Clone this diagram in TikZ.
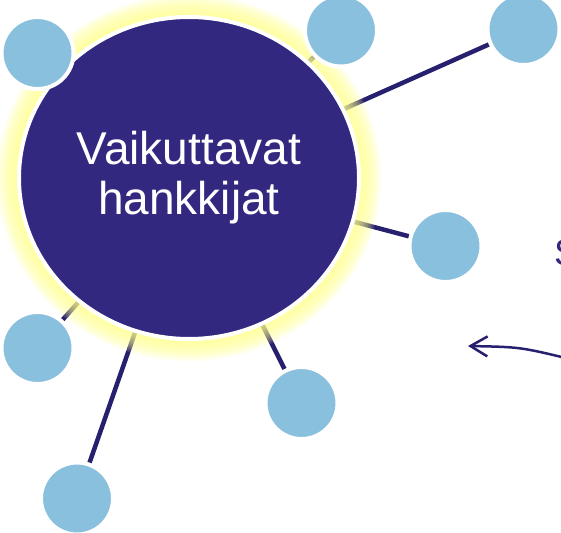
\documentclass[tikz,border=0pt]{standalone}
\usepackage{fontspec}
\setmainfont{Liberation Sans}
\usetikzlibrary{shapes.geometric,arrows.meta,backgrounds,positioning}

\definecolor{hubblue}{RGB}{50,40,128}
\definecolor{linkblue}{RGB}{38,32,110}
\definecolor{leafblue}{RGB}{137,192,222}
\definecolor{glowyellow}{RGB}{255,255,140}

\begin{document}
\begin{tikzpicture}[x=1pt,y=-1pt,
        hub/.style={ellipse,fill=hubblue,draw=white,line width=4pt,minimum width=340pt,minimum height=322pt,inner sep=0pt,text=white,align=center,font=\fontsize{46}{50}\selectfont},
        leaf/.style={circle,fill=leafblue,draw=white,line width=4pt,minimum size=72pt,inner sep=0pt},
        link/.style={draw=linkblue,line width=4.5pt}]
        \useasboundingbox (0,0) rectangle (561,532);

        % glow round the big circle
        \coordinate (c) at (189,178);
        \foreach \g in {24,22,...,2}
            \fill[glowyellow,opacity=0.14] (c) ellipse [x radius=168pt+\g pt,y radius=159pt+\g pt];

        \node[hub] (hub) at (c) {Vaikuttavat\\hankkijat};

        \node[leaf] (l1) at (37.5,53) {};
        \node[leaf] (l2) at (341,30.5) {};
        \node[leaf] (l3) at (523.5,29) {};
        \node[leaf] (l4) at (445.5,246) {};
        \node[leaf] (l5) at (37.5,348) {};
        \node[leaf] (l6) at (301.5,403) {};
        \node[leaf] (l7) at (77,498.5) {};

        \node[anchor=west,text=hubblue,font=\fontsize{37}{40}\selectfont,inner sep=0pt] (s) at (554,253) {S};

        \begin{scope}[on background layer]
        \draw[link] (hub.center) -- (l2.center);
        \draw[link] (hub.center) -- (l3.center);
        \draw[link] (hub.center) -- (l4.center);
        \draw[link] (hub.center) -- (l5.center);
        \draw[link] (hub.center) -- (l6.center);
        \draw[link] (hub.center) -- (l7.center);
        \end{scope}

        \coordinate (from) at (570,359);
        \coordinate (to) at (468,346);
        \draw[linkblue,line width=2.5pt,-{Straight Barb[length=17pt,width=20pt,line width=2.5pt]}] (from) .. controls (520,347) .. (to);

    \end{tikzpicture}
\end{document}
